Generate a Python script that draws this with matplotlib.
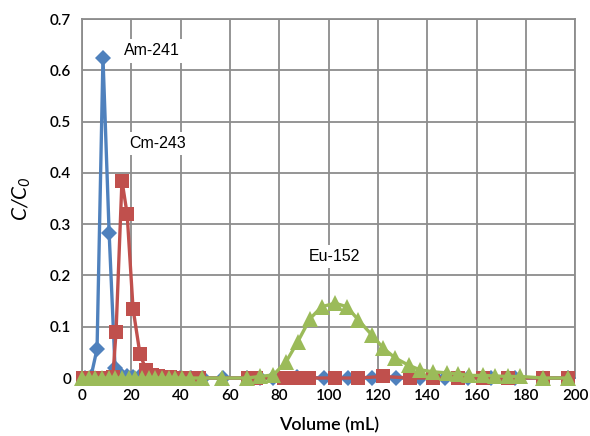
import matplotlib
matplotlib.use("Agg")
import matplotlib.pyplot as plt

# fraction volumes (mL) and C/C0 for each isotope
am_volume = [1.2, 3.6, 6.1, 8.5, 11.0, 13.4, 15.8, 18.2, 20.6, 23.0, 25.4, 27.8,
             30.2, 32.6, 35.0, 37.4, 39.8, 44.0, 49.0, 57.0, 67.0, 72.0, 77.5,
             87.0, 98.0, 108.0, 117.5, 127.5, 137.0, 147.3, 156.6, 166.0, 175.7, 197.0]
am_conc = [0.0, 0.002, 0.057, 0.625, 0.283, 0.02, 0.006, 0.003, 0.002, 0.001, 0.001, 0.0,
           0.0, 0.0, 0.0, 0.0, 0.0, 0.0, 0.0, 0.0, 0.0, 0.0, 0.0,
           0.002, 0.0, 0.0, 0.0, 0.0, 0.0, 0.0, 0.0, 0.0, 0.0, 0.0]

cm_volume = [0.5, 2.9, 5.3, 7.7, 10.1, 12.5, 13.8, 16.2, 18.3, 20.7, 23.5, 26.0,
             28.4, 30.8, 33.2, 35.6, 38.0, 42.5, 47.5, 67.5, 70.5, 82.0, 87.0,
             92.0, 102.6, 112.0, 122.0, 133.0, 142.4, 152.5, 162.7, 172.8, 187.0, 197.0]
cm_conc = [0.0, 0.0, 0.0, 0.0, 0.0, 0.002, 0.09, 0.385, 0.32, 0.135, 0.047, 0.015,
           0.006, 0.003, 0.002, 0.001, 0.0, 0.0, 0.0, 0.0, 0.0, 0.0, 0.0,
           0.0, 0.0, 0.0, 0.003, 0.0, 0.0, 0.0, 0.0, 0.0, 0.0, 0.0]

eu_volume = [0.0, 2.7, 5.4, 8.1, 10.8, 13.5, 16.2, 18.9, 21.6, 24.3, 27.0, 29.7,
             32.4, 35.1, 37.8, 40.5, 43.8, 48.5, 56.7, 66.8, 72.2, 77.6, 82.8,
             87.5, 92.5, 97.2, 102.6, 107.4, 112.1, 117.5, 122.2, 127.0, 132.4, 137.0,
             142.5, 148.0, 152.5, 157.0, 162.7, 167.5, 172.8, 177.7, 187.0, 197.0]
eu_conc = [0.0, 0.0, 0.0, 0.0, 0.0, 0.0, 0.0, 0.0, 0.0, 0.0, 0.0, 0.0,
           0.0, 0.0, 0.0, 0.0, 0.0, 0.0, 0.0, 0.0, 0.003, 0.006, 0.032,
           0.071, 0.116, 0.139, 0.146, 0.139, 0.113, 0.084, 0.058, 0.039, 0.025, 0.016,
           0.012, 0.01, 0.008, 0.005, 0.005, 0.004, 0.003, 0.003, 0.0, 0.0]

x_ticks = [0, 20, 40, 60, 80, 100, 120, 140, 160, 180, 200]
y_ticks = [0, 0.1, 0.2, 0.3, 0.4, 0.5, 0.6, 0.7]
y_tick_labels = ["0", "0.1", "0.2", "0.3", "0.4", "0.5", "0.6", "0.7"]

BLUE = "#4F81BD"
RED = "#C0504D"
GREEN = "#9BBB59"
GRID = "#8C8C8C"

plt.rcParams["font.family"] = ["Lato", "DejaVu Sans"]
plt.rcParams["mathtext.fontset"] = "custom"
plt.rcParams["mathtext.it"] = "Lato:italic"
plt.rcParams["mathtext.rm"] = "Lato:italic"

fig = plt.figure(figsize=(5.9, 4.36), dpi=100)
ax = fig.add_axes([0.139, 0.133, 0.836, 0.823])

ax.plot(am_volume, am_conc, color=BLUE, lw=2.4, marker="D", ms=8,
        markeredgewidth=0, clip_on=False, zorder=3)
ax.plot(cm_volume, cm_conc, color=RED, lw=2.4, marker="s", ms=10,
        markeredgewidth=0, clip_on=False, zorder=4)
ax.plot(eu_volume, eu_conc, color=GREEN, lw=2.4, marker="^", ms=11,
        markeredgewidth=0, clip_on=False, zorder=5)

ax.set_xlim(0, 200)
ax.set_ylim(0, 0.7)
ax.set_xticks(x_ticks)
ax.set_yticks(y_ticks)
ax.set_yticklabels(y_tick_labels)
ax.tick_params(length=0, labelsize=11, pad=8)
for lbl in ax.get_xticklabels() + ax.get_yticklabels():
    lbl.set_fontweight("semibold")
ax.grid(True, color=GRID, lw=1.3)
ax.set_axisbelow(True)
for s in ax.spines.values():
    s.set_color(GRID)
    s.set_linewidth(1.3)

ax.set_xlabel("Volume (mL)", fontsize=13, labelpad=10, fontweight="semibold")
ax.set_ylabel(r"$\mathit{C/C_0}$", fontsize=15, labelpad=12)

box = dict(facecolor="white", edgecolor="none", pad=3)
lab_font = ["Liberation Sans", "DejaVu Sans"]
ax.text(17.0, 0.638, "Am-241", fontsize=11.5, family=lab_font, va="center", bbox=box, zorder=6)
ax.text(19.3, 0.458, "Cm-243", fontsize=11.5, family=lab_font, va="center", bbox=box, zorder=6)
ax.text(92.0, 0.237, "Eu-152", fontsize=11.5, family=lab_font, va="center", bbox=box, zorder=6)

fig.savefig("out.png", dpi=100)
